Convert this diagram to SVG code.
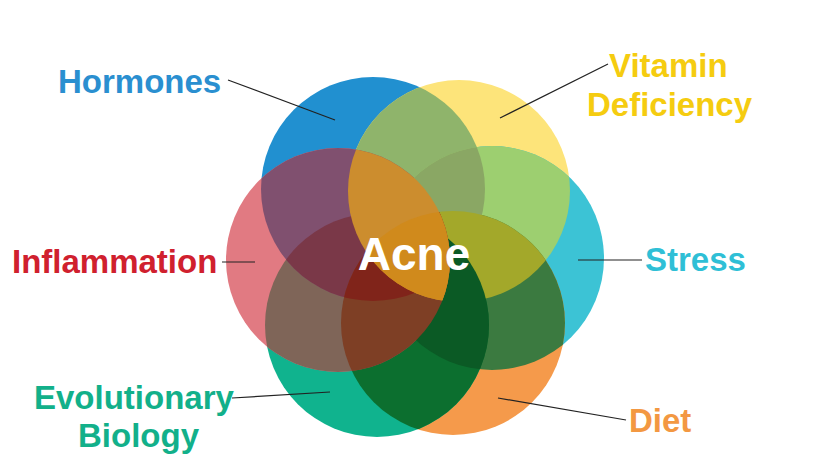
<svg xmlns="http://www.w3.org/2000/svg" width="818" height="455" viewBox="0 0 818 455">
<style>
.l{font-family:"Liberation Sans",Arial,sans-serif;font-weight:bold;font-size:33px}
.k{stroke:#222;stroke-width:1.2;fill:none}
</style>
<defs>
<circle id="B" cx="373" cy="189" r="112"/>
<circle id="Y" cx="459" cy="191" r="111"/>
<circle id="S" cx="492" cy="258" r="112"/>
<circle id="D" cx="453" cy="323" r="112"/>
<circle id="E" cx="377" cy="325" r="112"/>
<circle id="P" cx="338" cy="260" r="112"/>
<clipPath id="cB"><use href="#B"/></clipPath>
<clipPath id="cY"><use href="#Y"/></clipPath>
<clipPath id="cS"><use href="#S"/></clipPath>
<clipPath id="cD"><use href="#D"/></clipPath>
<clipPath id="cE"><use href="#E"/></clipPath>
<clipPath id="cP"><use href="#P"/></clipPath>
</defs>
<rect width="818" height="455" fill="#fff"/>
<g id="hormones"><use href="#B" fill="#2190d0"/></g>
<g id="vitamin"><use href="#Y" fill="#fde47a"/></g>
<g id="stress"><use href="#S" fill="#3cc3d5"/></g>
<g id="diet"><use href="#D" fill="#f59a4b"/></g>
<g id="evolutionary"><use href="#E" fill="#10b38e"/></g>
<g id="inflammation"><use href="#P" fill="#e17a82"/></g>
<g id="overlaps">
<g clip-path="url(#cB)"><use href="#Y" fill="#8fb46b"/></g>
<g clip-path="url(#cY)"><use href="#S" fill="#9dcf70"/></g>
<g clip-path="url(#cS)"><use href="#D" fill="#3b7a40"/></g>
<g clip-path="url(#cD)"><use href="#E" fill="#0c6f2f"/></g>
<g clip-path="url(#cE)"><use href="#P" fill="#7f6558"/></g>
<g clip-path="url(#cP)"><use href="#B" fill="#80506f"/></g>
<g clip-path="url(#cE)"><use href="#B" fill="#7a3848"/></g>
<g clip-path="url(#cB)"><use href="#S" fill="#8aa764"/></g>
<g clip-path="url(#cY)"><use href="#D" fill="#a3a82a"/></g>
<g clip-path="url(#cS)"><use href="#E" fill="#0b5a25"/></g>
<g clip-path="url(#cD)"><use href="#P" fill="#7e3f25"/></g>
<g clip-path="url(#cD)"><g clip-path="url(#cP)"><use href="#B" fill="#80241a"/></g></g>
<g clip-path="url(#cY)"><use href="#P" fill="#cc8d2e"/></g>
<g clip-path="url(#cY)"><g clip-path="url(#cP)"><use href="#D" fill="#d08a1c"/></g></g>
</g>
<g id="connectors">
<line class="k" x1="228" y1="80" x2="335" y2="120"/>
<line class="k" x1="500" y1="118" x2="608" y2="64"/>
<line class="k" x1="578" y1="260" x2="642" y2="260"/>
<line class="k" x1="222" y1="262" x2="255" y2="262"/>
<line class="k" x1="232" y1="398" x2="330" y2="392"/>
<line class="k" x1="498" y1="398" x2="626" y2="420"/>
</g>
<text class="l" x="58" y="93" fill="#2a8fd0">Hormones</text>
<text class="l" x="609" y="77" fill="#f5cc10">Vitamin</text>
<text class="l" x="587" y="116" fill="#f5cc10">Deficiency</text>
<text class="l" x="645" y="271" fill="#2fbfd6">Stress</text>
<text class="l" x="12" y="273" fill="#d0202e">Inflammation</text>
<text class="l" x="34" y="409" fill="#12b08a">Evolutionary</text>
<text class="l" x="78" y="447" fill="#12b08a">Biology</text>
<text class="l" x="629" y="432" fill="#f39842">Diet</text>
<text x="414" y="270" text-anchor="middle" font-family="Liberation Sans,Arial,sans-serif" font-weight="bold" font-size="46" fill="#fff">Acne</text>
</svg>
